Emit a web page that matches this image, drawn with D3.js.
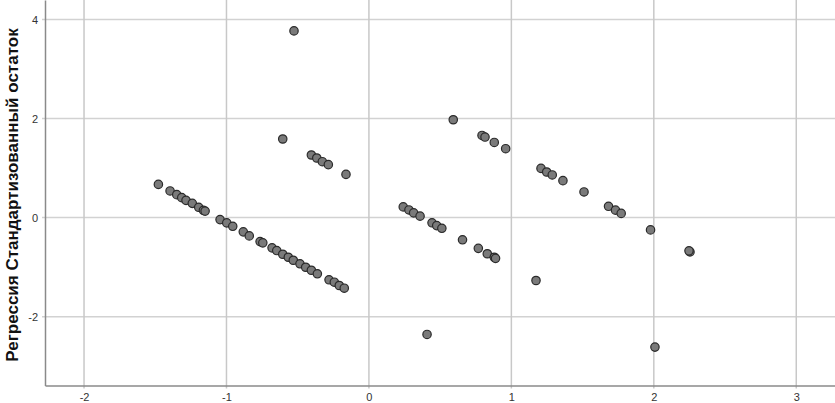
<!DOCTYPE html>
<html>
<head>
<meta charset="utf-8">
<script src="https://cdn.jsdelivr.net/npm/d3@7/dist/d3.min.js"></script>
<style>
  html, body { margin: 0; padding: 0; background: #fff; }
  svg { display: block; }
</style>
</head>
<body>
<svg id="chart" width="835" height="403"></svg>
<script>
// Predicted (standardized) values — x
const predicted = [
  -1.478, -1.396, -1.349, -1.314, -1.284, -1.240, -1.195, -1.162, -1.150,
  -1.045, -0.998, -0.956, -0.882, -0.840, -0.764, -0.745, -0.680, -0.647,
  -0.605, -0.566, -0.531, -0.484, -0.444, -0.404, -0.362, -0.280, -0.243,
  -0.208, -0.173,
  -0.526, -0.605, -0.404, -0.366, -0.327, -0.285, -0.161,
  0.592, 0.794, 0.815, 0.880, 0.960, 1.208, 1.248, 1.287, 1.362, 1.510,
  1.682, 1.731, 1.771, 1.977, 2.254, 2.247,
  0.241, 0.281, 0.314, 0.359, 0.443, 0.476, 0.512, 0.657, 0.768, 0.831,
  0.880, 0.889,
  1.173, 0.408, 2.008
];
// Regression standardized residuals — y
const residual = [
  0.671, 0.538, 0.464, 0.403, 0.349, 0.288, 0.208, 0.147, 0.131,
  -0.040, -0.107, -0.175, -0.288, -0.369, -0.484, -0.510, -0.611, -0.665,
  -0.740, -0.800, -0.861, -0.933, -1.002, -1.063, -1.135, -1.256, -1.304,
  -1.371, -1.425,
  3.770, 1.587, 1.264, 1.204, 1.129, 1.069, 0.873,
  1.976, 1.659, 1.627, 1.518, 1.391, 0.994, 0.921, 0.861, 0.746, 0.518,
  0.228, 0.151, 0.085, -0.248, -0.692, -0.671,
  0.216, 0.155, 0.095, 0.030, -0.105, -0.161, -0.216, -0.448, -0.621, -0.730,
  -0.800, -0.823,
  -1.270, -2.359, -2.615
];
const xTicks = [-2, -1, 0, 1, 2, 3];
const yTicks = [-2, 0, 2, 4];
const yTitle = "Регрессия Стандартизованный остаток";

(function () {
const svg = d3.select("#chart");
const pLeft = 45, pTop = 0, pRight = 835, pBottom = 385.5;

const x = d3.scaleLinear().domain([-2.274, 3.272]).range([pLeft, pRight]);
const y = d3.scaleLinear().domain([-3.39, 4.394]).range([pBottom, pTop]);

// gridlines
svg.append("g").selectAll("line").data(yTicks).join("line")
  .attr("x1", pLeft - 3).attr("x2", pRight)
  .attr("y1", d => y(d)).attr("y2", d => y(d))
  .attr("stroke", "#d2d2d2").attr("stroke-width", 1.5);
svg.append("g").selectAll("line").data(xTicks).join("line")
  .attr("y1", pTop).attr("y2", pBottom + 3)
  .attr("x1", d => x(d)).attr("x2", d => x(d))
  .attr("stroke", "#c8c8c8").attr("stroke-width", 1.5);

// axes
const fmt = d => String(d);
const xAxis = d3.axisBottom(x).tickValues(xTicks).tickSize(0).tickPadding(8).tickFormat(fmt);
const yAxis = d3.axisLeft(y).tickValues(yTicks).tickSize(0).tickPadding(7).tickFormat(fmt);

const gx = svg.append("g").attr("transform", `translate(0,${pBottom})`).call(xAxis);
const gy = svg.append("g").attr("transform", `translate(${pLeft},0)`).call(yAxis);
[gx, gy].forEach(g => {
  g.select(".domain").attr("stroke", "#8a8a8a").attr("stroke-width", 1.5);
  g.selectAll("text").attr("font-family", "Liberation Sans, Arial, sans-serif")
    .attr("font-size", 11).attr("fill", "#333");
});

// points
svg.append("g").selectAll("circle").data(predicted.map((p, i) => [p, residual[i]])).join("circle")
  .attr("cx", d => x(d[0])).attr("cy", d => y(d[1]))
  .attr("r", 4.2)
  .attr("fill", "#7a7a7a").attr("stroke", "#2a2a2a").attr("stroke-width", 1.2);

// y title
svg.append("text")
  .attr("transform", `translate(18,${195}) rotate(-90)`)
  .attr("text-anchor", "middle")
  .attr("font-family", "Liberation Sans, Arial, sans-serif")
  .attr("font-weight", "bold").attr("font-size", 17).attr("fill", "#111")
  .text(yTitle);
})();
</script>
</body>
</html>
